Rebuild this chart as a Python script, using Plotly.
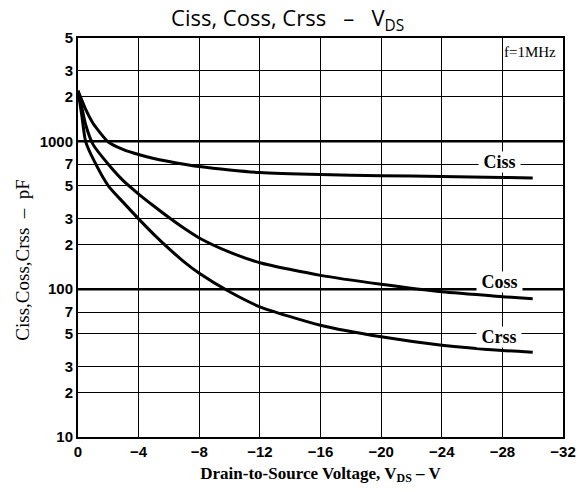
import math
import plotly.graph_objects as go

# Data (V_DS in volts, capacitance in pF)
vds = [0, -0.25, -0.5, -1, -2, -3, -4, -5, -6, -7, -8, -10, -12, -16, -20, -24, -28, -30]
ciss = [2200, 1900, 1650, 1320, 990, 880, 815, 765, 730, 700, 675, 640, 615, 596, 586, 578, 570, 566]
coss = [2200, 1700, 1300, 950, 700, 540, 440, 365, 305, 258, 222, 178, 151, 124, 108, 96, 89, 86]
crss = [2200, 1500, 1000, 760, 500, 385, 299, 235, 188, 153, 128, 96, 76, 57, 47.6, 41.8, 38.5, 37.5]

x_ticks = [0, -4, -8, -12, -16, -20, -24, -28, -32]
y_ticks = [10, 20, 30, 50, 70, 100, 200, 300, 500, 700, 1000, 2000, 3000, 5000]
y_ticktext = ["10", "2", "3", "5", "7", "100", "2", "3", "5", "7", "1000", "2", "3", "5"]
decades = [100, 1000]

label_x = -27.8
series = [("Ciss", ciss, 720), ("Coss", coss, 112), ("Crss", crss, 47.5)]

fig = go.Figure()
for name, vals, _ in series:
    fig.add_trace(go.Scatter(x=vds, y=vals, mode="lines", name=name,
                             line=dict(color="black", width=3, shape="spline", smoothing=0.6),
                             showlegend=False, hoverinfo="skip"))

# thicker decade gridlines
for d in decades:
    fig.add_shape(type="line", xref="paper", x0=0, x1=1, yref="y", y0=d, y1=d,
                  line=dict(color="black", width=2.5), layer="below")

# curve labels
for name, _, yv in series:
    fig.add_annotation(x=label_x, y=math.log10(yv), xref="x", yref="y",
                       text="\u00a0<b>" + name + "</b>\u00a0", showarrow=False, bgcolor="white",
                       borderpad=0,
                       font=dict(family="Liberation Serif", size=18, color="black"))

fig.add_annotation(x=0.99, y=0.99, xref="paper", yref="paper", xanchor="right", yanchor="top",
                   text="f=1MHz", showarrow=False,
                   font=dict(family="Liberation Serif", size=15, color="black"))

fig.add_annotation(x=-0.115, y=0.445, xref="paper", yref="paper", textangle=-90,
                   xanchor="center", yanchor="middle",
                   text="Ciss,Coss,Crss  –  pF", showarrow=False,
                   font=dict(family="Liberation Serif", size=19, color="black"))

fig.update_layout(
    width=587, height=492,
    margin=dict(l=78, r=24, t=38, b=55),
    paper_bgcolor="white", plot_bgcolor="white",
    title=dict(text="Ciss, Coss, Crss   –   V<sub>DS</sub>", x=0.49, xanchor="center",
               y=0.978, yanchor="top",
               font=dict(family="Open Sans", size=22, color="black")),
    xaxis=dict(range=[0, -32], tickvals=x_ticks, ticktext=[str(v).replace("-", "−") for v in x_ticks],
               showgrid=True, gridcolor="black", gridwidth=1.2,
               showline=True, linecolor="black", linewidth=2, mirror=True,
               zeroline=False, ticks="", ticklen=0, automargin=False,
               tickfont=dict(family="Liberation Sans", size=15, color="black", weight="bold"),
               title=dict(text="<b>Drain-to-Source Voltage, V<sub>DS</sub> – V</b>", standoff=8,
                          font=dict(family="Liberation Serif", size=17, color="black"))),
    yaxis=dict(type="log", range=[1, 3.699], tickvals=y_ticks, ticktext=y_ticktext,
               showgrid=True, gridcolor="black", gridwidth=1.4,
               showline=True, linecolor="black", linewidth=2, mirror=True,
               zeroline=False, ticks="", ticklen=0, automargin=False,
               tickfont=dict(family="Liberation Sans", size=15, color="black", weight="bold")),
)

fig.write_html("out.html", config={"displayModeBar": False},
               post_script="document.body.style.margin='0';")
